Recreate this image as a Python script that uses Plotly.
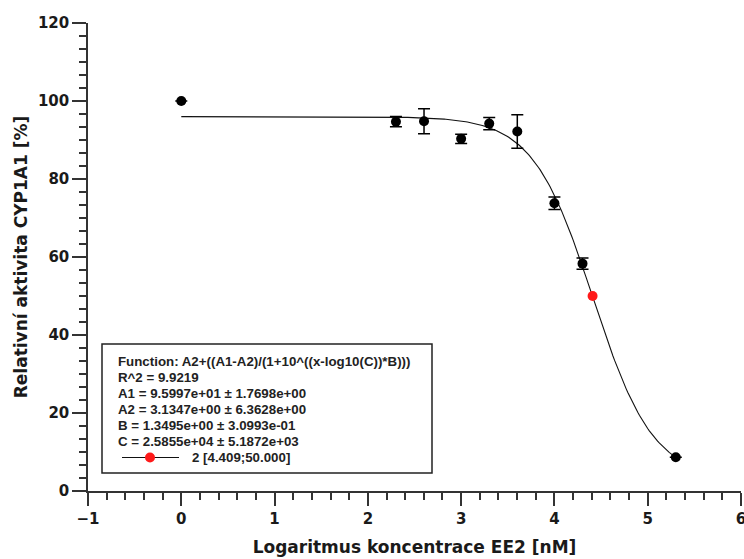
import numpy as np
import plotly.graph_objects as go

# Measured activity (mean ± SD) vs. log10 of EE2 concentration
log_conc = [0.0, 2.301, 2.602, 3.0, 3.301, 3.602, 4.0, 4.301, 5.301]
activity = [100.0, 94.7, 94.8, 90.3, 94.2, 92.2, 73.8, 58.3, 8.65]
activity_sd = [0.0, 1.3, 3.2, 1.2, 1.6, 4.3, 1.6, 1.45, 0.0]

# Fitted logistic parameters
A1, A1_err = 9.5997e+01, 1.7698e+00
A2, A2_err = 3.1347e+00, 6.3628e+00
B, B_err = 1.3495e+00, 3.0993e-01
C, C_err = 2.5855e+04, 5.1872e+03
R2 = 9.9219

# Half-inhibition point
ic50_x, ic50_y = 4.409, 50.000

x_ticks = [-1, 0, 1, 2, 3, 4, 5, 6]
y_ticks = [0, 20, 40, 60, 80, 100, 120]

W, H = 744, 559
ML, MR, MT, MB = 88, 3, 23, 68
PW, PH = W - ML - MR, H - MT - MB


def px(xp):
    return (xp - ML) / PW


def py(yp):
    return (H - MB - yp) / PH


fit_x = np.linspace(min(log_conc), max(log_conc), 300)
fit_y = A2 + (A1 - A2) / (1 + 10 ** ((fit_x - np.log10(C)) * B))

fig = go.Figure()
fig.add_trace(go.Scatter(
    x=fit_x, y=fit_y, mode="lines",
    line=dict(color="#111", width=1.1), hoverinfo="skip"))
fig.add_trace(go.Scatter(
    x=log_conc, y=activity, mode="markers",
    marker=dict(color="black", size=10),
    error_y=dict(type="data", array=activity_sd, color="black",
                 thickness=1.5, width=6)))
fig.add_trace(go.Scatter(
    x=[ic50_x], y=[ic50_y], mode="markers",
    marker=dict(color="#ff1a1a", size=10)))

tick_font = dict(family="DejaVu Sans", size=15, color="#1a1a1a", weight="bold")
title_font = dict(family="DejaVu Sans", size=17, color="#1a1a1a", weight="bold")

fig.update_xaxes(
    range=[-1, 6], tickvals=x_ticks,
    ticktext=["\u22121" if v < 0 else str(v) for v in x_ticks],
    ticks="outside", ticklen=13, tickwidth=1.5, tickcolor="#333",
    minor=dict(dtick=0.2, ticks="outside", ticklen=7, tickwidth=1.5,
               tickcolor="#333"),
    showline=True, linecolor="#333", linewidth=1.5,
    showgrid=False, zeroline=False, tickfont=tick_font,
    ticklabeloverflow="allow",
    title=dict(text="Logaritmus koncentrace EE2 [nM]", font=title_font,
               standoff=14),
    automargin=False)
fig.update_yaxes(
    range=[0, 120], tickvals=y_ticks,
    ticks="outside", ticklen=14, tickwidth=1.5, tickcolor="#333",
    minor=dict(dtick=10 / 3, ticks="outside", ticklen=7, tickwidth=1.5,
               tickcolor="#333"),
    showline=True, linecolor="#333", linewidth=1.5,
    showgrid=False, zeroline=False, tickfont=tick_font,
    ticklabeloverflow="allow",
    title=dict(text="Relativní aktivita CYP1A1 [%]", font=title_font,
               standoff=6),
    automargin=False)

# Fit summary box
box_l, box_r, box_t, box_b = 102, 432, 344, 473
shapes = [dict(type="rect", xref="paper", yref="paper",
               x0=px(box_l), x1=px(box_r), y0=py(box_b), y1=py(box_t),
               line=dict(color="#222", width=1.5), fillcolor="white",
               layer="below")]

lines = [
    "Function: A2+((A1-A2)/(1+10^((x-log10(C))*B)))",
    f"R^2 = {R2:.4f}",
    f"A1 = {A1:.4e} \u00b1 {A1_err:.4e}",
    f"A2 = {A2:.4e} \u00b1 {A2_err:.4e}",
    f"B = {B:.4e} \u00b1 {B_err:.4e}",
    f"C = {C:.4e} \u00b1 {C_err:.4e}",
]
text_font = dict(family="Liberation Sans", size=13.3, color="#222", weight="bold")
annotations = []
for i, t in enumerate(lines):
    annotations.append(dict(
        xref="paper", yref="paper", x=px(116), y=py(361.5 + 16 * i),
        xanchor="left", yanchor="middle", text=t, showarrow=False,
        font=text_font))

leg_y = 457.5
shapes.append(dict(type="line", xref="paper", yref="paper",
                   x0=px(122), x1=px(179), y0=py(leg_y), y1=py(leg_y),
                   line=dict(color="#111", width=1.2)))
shapes.append(dict(type="circle", xref="paper", yref="paper",
                   x0=px(145), x1=px(155), y0=py(leg_y + 5), y1=py(leg_y - 5),
                   line=dict(color="#ff1a1a", width=0), fillcolor="#ff1a1a"))
annotations.append(dict(
    xref="paper", yref="paper", x=px(190), y=py(leg_y),
    xanchor="left", yanchor="middle",
    text=f"2 [{ic50_x:.3f};{ic50_y:.3f}]", showarrow=False, font=text_font))

fig.update_layout(
    width=W, height=H, margin=dict(l=ML, r=MR, t=MT, b=MB),
    plot_bgcolor="white", paper_bgcolor="white", showlegend=False,
    shapes=shapes, annotations=annotations)

fig.write_html("out.html")
